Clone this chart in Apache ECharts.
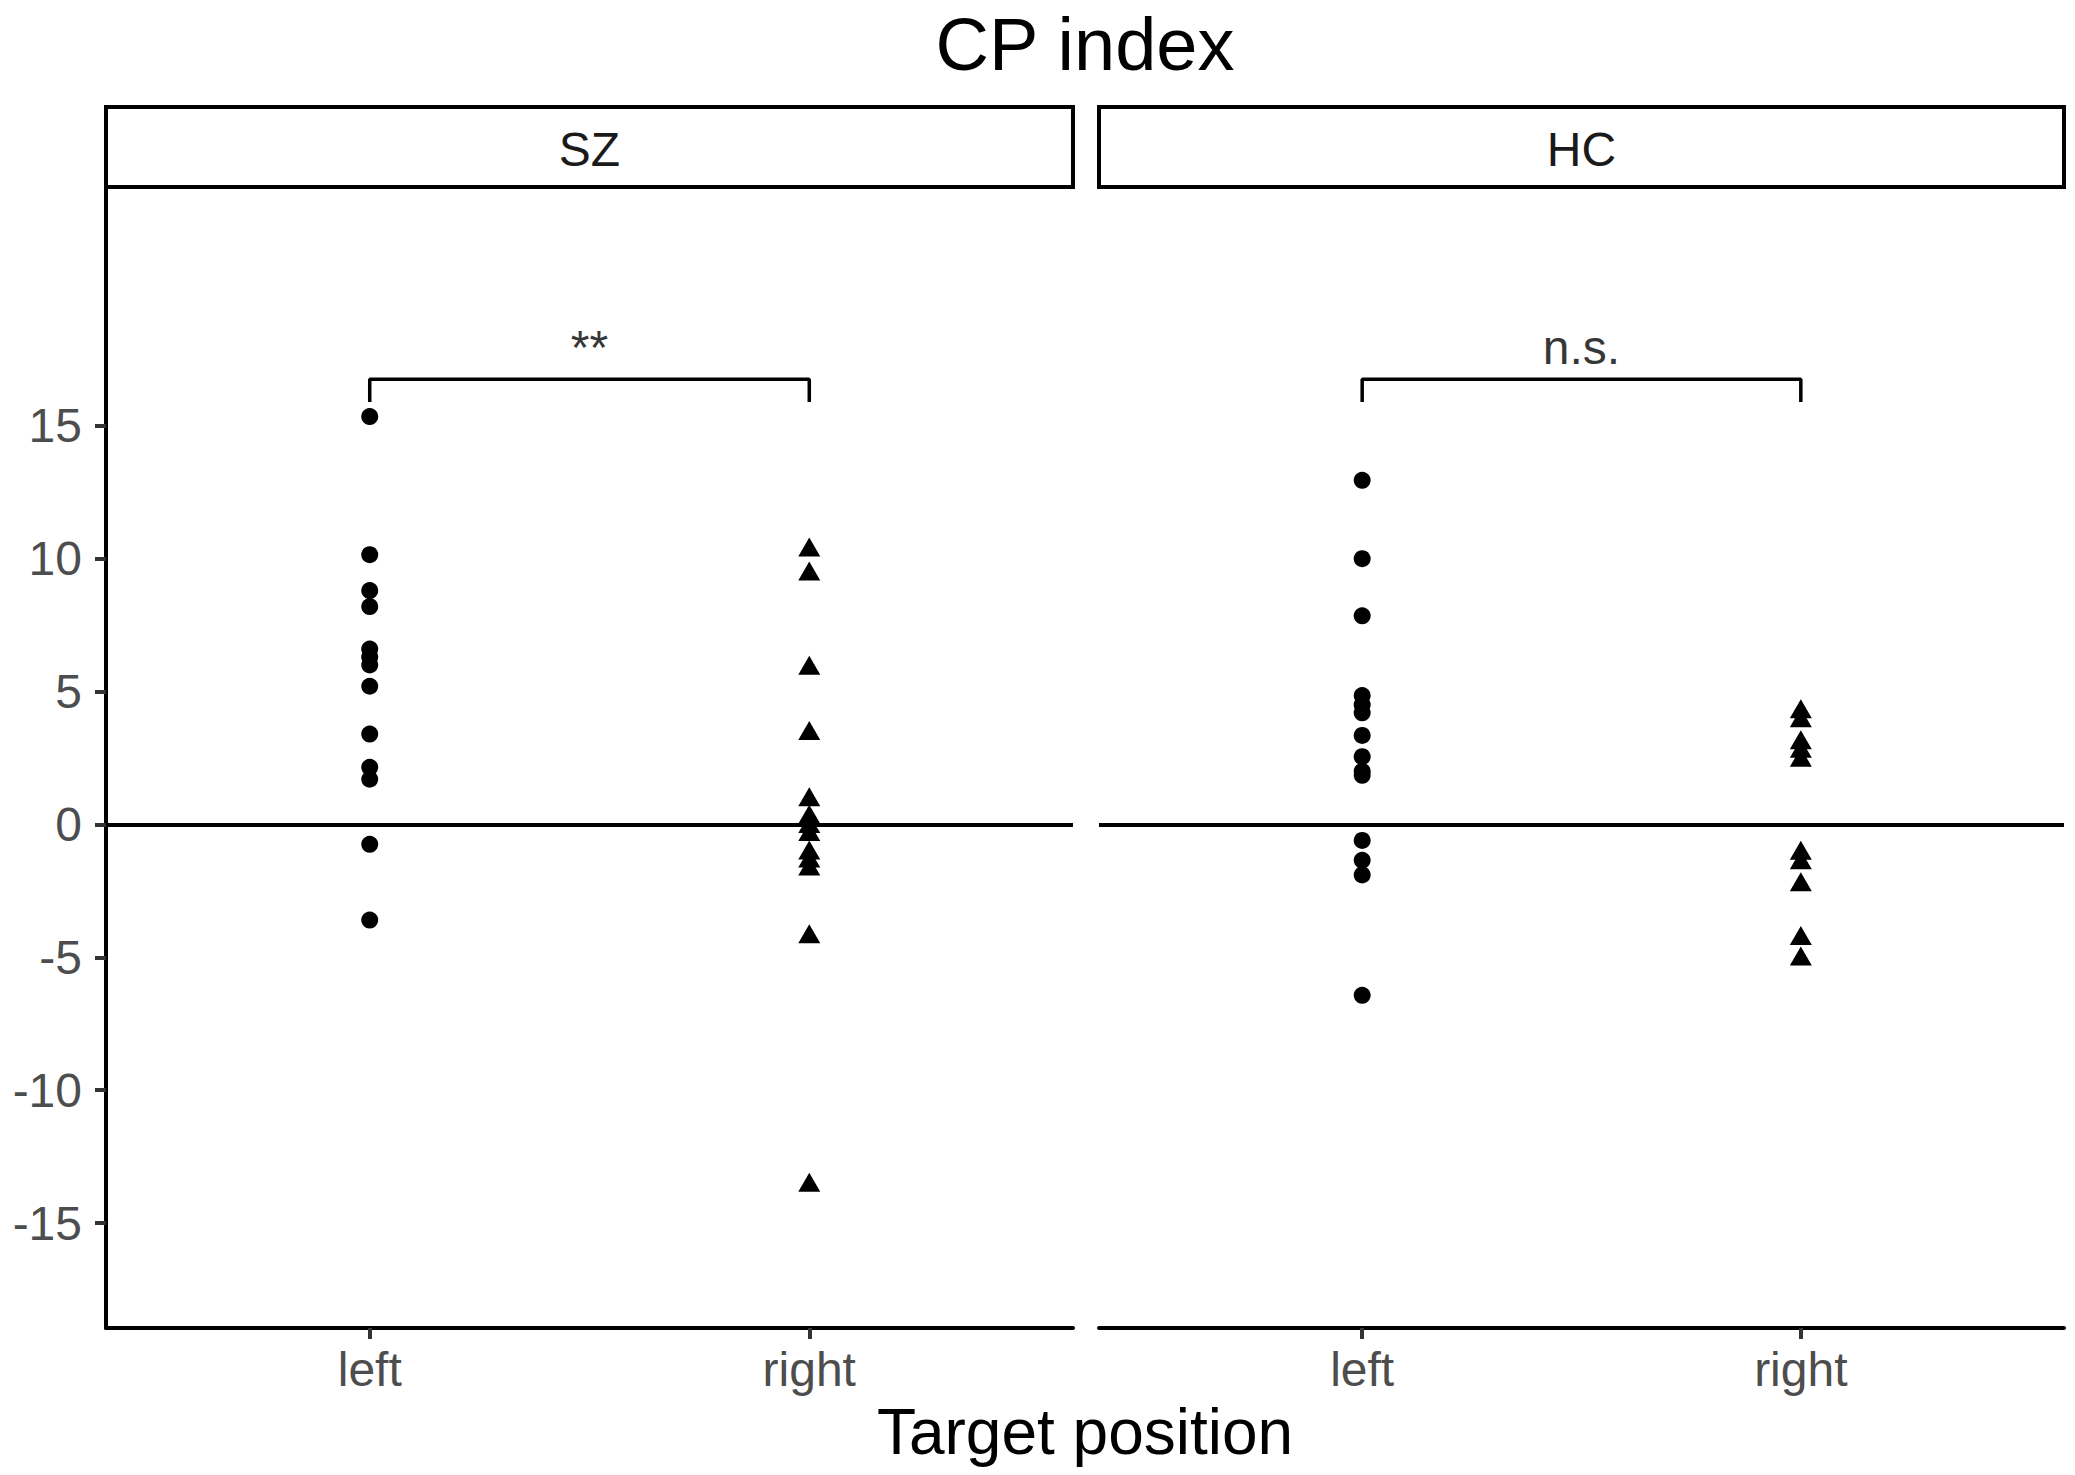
<!DOCTYPE html>
<html>
<head>
<meta charset="utf-8">
<script src="https://cdn.jsdelivr.net/npm/echarts@6/dist/echarts.min.js"></script>
<style>
  html, body { margin: 0; padding: 0; background: #fff; }
  #chart { width: 2075px; height: 1475px; }
</style>
</head>
<body>
<div id="chart"></div>
<script>
// categories on the x axis and the two facets
const categories = ['left', 'right'];
const groups = ['SZ', 'HC'];

// CP index values
const szLeft = [15.35, 10.15, 8.8, 8.2, 6.6, 6.3, 6.0, 5.2, 3.4, 2.15, 1.7, -0.75, -3.6];
const szRight = [10.55, 9.65, 6.1, 3.65, 1.15, 0.5, 0.15, -0.15, -0.85, -1.15, -1.45, -4.0, -13.35];
const hcLeft = [12.95, 10.0, 7.85, 4.85, 4.5, 4.2, 3.35, 2.55, 2.0, 1.85, -0.6, -1.35, -1.9, -6.43];
const hcRight = [4.47, 4.13, 3.3, 2.98, 2.64, -0.86, -1.22, -2.04, -4.07, -4.84];

// significance brackets
const bracketLow = [15.9, 15.9];
const bracketHigh = [16.75, 16.75];
const signifLabels = ['**', 'n.s.'];

const yTicks = [-15, -10, -5, 0, 5, 10, 15];
const xTicks = [1, 2];

const FONT = 'Liberation Sans';
const myChart = echarts.init(document.getElementById('chart'), null, { renderer: 'svg' });

const panels = [
  { left: szLeft, right: szRight, gridLeft: 106, gridWidth: 967 },
  { left: hcLeft, right: hcRight, gridLeft: 1099, gridWidth: 965 }
];

const option = {
  animation: false,
  backgroundColor: '#fff',
  textStyle: { fontFamily: FONT },
  grid: panels.map(p => ({ left: p.gridLeft, width: p.gridWidth, top: 188, height: 1140 })),
  xAxis: panels.map((p, i) => ({
    gridIndex: i,
    type: 'value',
    min: 0.4,
    max: 2.6,
    splitLine: { show: false },
    axisLine: { show: true, onZero: false, lineStyle: { color: '#000', width: 4 } },
    axisTick: { show: true, customValues: xTicks, length: 11, lineStyle: { color: '#333', width: 4 } },
    axisLabel: {
      customValues: xTicks,
      formatter: v => categories[Math.round(v) - 1],
      fontSize: 48, color: '#4D4D4D', margin: 17, fontFamily: FONT
    }
  })),
  yAxis: panels.map((p, i) => ({
    gridIndex: i,
    type: 'value',
    min: -18.95,
    max: 23.95,
    show: i === 0,
    splitLine: { show: false },
    axisLine: { show: true, onZero: false, lineStyle: { color: '#000', width: 4 } },
    axisTick: { show: true, customValues: yTicks, length: 11, lineStyle: { color: '#333', width: 4 } },
    axisLabel: { customValues: yTicks, fontSize: 48, color: '#4D4D4D', margin: 24, fontFamily: FONT }
  })),
  graphic: [
    { type: 'text', x: 1085, y: 44, style: { text: 'CP index', fontSize: 74, fontFamily: FONT, fill: '#000', align: 'center', verticalAlign: 'middle' } },
    { type: 'text', x: 1085, y: 1432, style: { text: 'Target position', fontSize: 64, fontFamily: FONT, fill: '#000', align: 'center', verticalAlign: 'middle' } }
  ],
  series: []
};

panels.forEach((p, i) => {
  // strip
  option.graphic.push({ type: 'rect', shape: { x: p.gridLeft, y: 107, width: p.gridWidth, height: 80 }, style: { fill: '#fff', stroke: '#000', lineWidth: 4 } });
  option.graphic.push({ type: 'text', x: p.gridLeft + p.gridWidth / 2, y: 149, style: { text: groups[i], fontSize: 48, fontFamily: FONT, fill: '#1A1A1A', align: 'center', verticalAlign: 'middle' } });

  option.series.push({
    type: 'scatter', xAxisIndex: i, yAxisIndex: i,
    symbol: 'circle', symbolSize: 17,
    itemStyle: { color: '#000', opacity: 1 },
    data: p.left.map(v => [1, v]),
    markLine: {
      silent: true, symbol: ['none', 'none'], label: { show: false },
      lineStyle: { color: '#000', width: 4, type: 'solid' },
      data: [{ yAxis: 0 }]
    }
  });
  option.series.push({
    type: 'scatter', xAxisIndex: i, yAxisIndex: i,
    symbol: 'triangle', symbolSize: [22, 19], symbolOffset: [0, 3],
    itemStyle: { color: '#000', opacity: 1 },
    data: p.right.map(v => [2, v])
  });
  option.series.push({
    type: 'line', xAxisIndex: i, yAxisIndex: i,
    symbol: 'none', silent: true,
    lineStyle: { color: '#000', width: 3.5 },
    data: [[1, bracketLow[i]], [1, bracketHigh[i]], [2, bracketHigh[i]], [2, bracketLow[i]]]
  });
  option.series.push({
    type: 'scatter', xAxisIndex: i, yAxisIndex: i,
    symbolSize: 0, silent: true,
    label: { show: true, position: 'top', distance: 8, formatter: signifLabels[i], fontSize: 48, color: '#000', fontFamily: FONT },
    data: [[1.5, bracketHigh[i]]]
  });
});

myChart.setOption(option);
</script>
</body>
</html>
